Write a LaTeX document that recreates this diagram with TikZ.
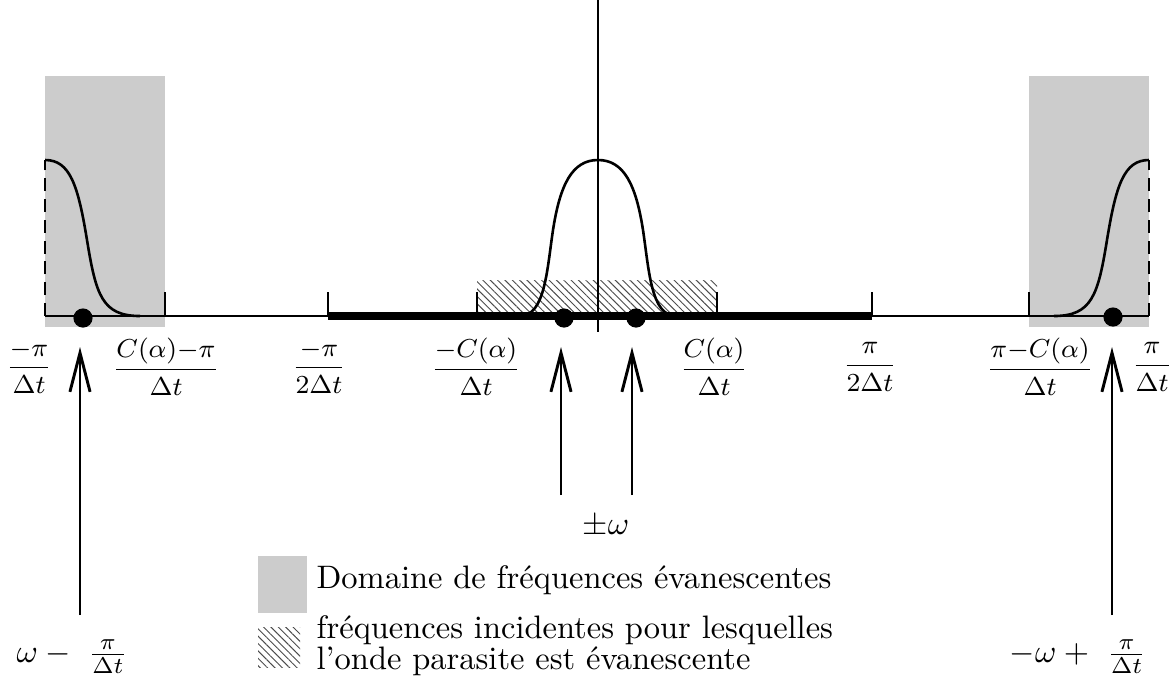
\documentclass[tikz,border=0pt]{standalone}
\usepackage{amsmath}
\usetikzlibrary{arrows.meta,patterns.meta}

\begin{document}
\begin{tikzpicture}[
            x=0.3077pt, y=-0.3077pt,
            axe/.style={line width=0.9pt},
            bande/.style={line width=2.2pt},
            courbe/.style={line width=0.8pt},
            grad/.style={line width=0.8pt},
            evan/.style={fill=black!20, draw=none},
            hach/.style={draw=none, pattern={Lines[angle=-45,distance=1.6pt,line width=0.3pt]},
            pattern color=black!70},
            frac/.style={font=\footnotesize, inner sep=0pt},
            freq/.style={inner sep=0pt},
            pt/.style={circle, fill=black, inner sep=0pt, minimum size=5.9pt},
            ar/.style={line width=0.9pt, -{Straight Barb[length=12pt,width=6.2pt]}},
            leg/.style={anchor=west, inner sep=0pt, align=left}
        ]
\useasboundingbox (0,0) rectangle (1175,687);
% domaines evanescents et bande hachuree
            \fill[evan] (45,76) rectangle (165,327);
            \fill[evan] (1029,76) rectangle (1149,327);
            \fill[hach] (477,280) rectangle (717,316);
% axes
            \draw[axe] (45,316) -- (1149,316);
            \draw[bande] (328,316) -- (872,316);
            \draw[axe] (598,0) -- (598,332);
            \draw[axe, dash pattern=on 4pt off 2.4pt] (45,316) -- (45,160);
            \draw[axe, dash pattern=on 4pt off 2.4pt] (1149,316) -- (1149,160);
            \foreach \x in {165,328,477,717,872,1029}
                \draw[grad] (\x,292) -- (\x,316);
% courbes
            \draw[courbe] (45,160) .. controls (70,160) and (78,185) .. (87,240)
                .. controls (96,295) and (102,316) .. (140,316);
            \draw[courbe] (1149,160) .. controls (1124,160) and (1116,185) .. (1107,240)
                .. controls (1098,295) and (1092,316) .. (1054,316);
            \draw[courbe] (520,316) .. controls (545,316) and (547,270) .. (553,230)
                .. controls (560,185) and (572,160) .. (598,160)
                .. controls (624,160) and (636,185) .. (643,230)
                .. controls (649,270) and (651,316) .. (676,316);
% points
            \node[pt] (p1) at (83,318) {};
            \node[pt] (p2) at (564,318) {};
            \node[pt] (p3) at (636,318) {};
            \node[pt] (p4) at (1113,317) {};
% graduations
            \node[frac] (g1) at (29,367)   {$\displaystyle\frac{-\pi}{\Delta t}$};
            \node[frac] (g2) at (166,367)  {$\displaystyle\frac{C(\alpha){-}\pi}{\Delta t}$};
            \node[frac] (g3) at (319,367)  {$\displaystyle\frac{-\pi}{2\Delta t}$};
            \node[frac] (g4) at (476,367)  {$\displaystyle\frac{-C(\alpha)}{\Delta t}$};
            \node[frac] (g5) at (714,367)  {$\displaystyle\frac{C(\alpha)}{\Delta t}$};
            \node[frac] (g6) at (870,367)  {$\displaystyle\frac{\pi}{2\Delta t}$};
            \node[frac] (g7) at (1040,367) {$\displaystyle\frac{\pi{-}C(\alpha)}{\Delta t}$};
            \node[frac] (g8) at (1152,367) {$\displaystyle\frac{\pi}{\Delta t}$};
% frequences
            \node[freq] (f1) at (72,657)   {$\omega - \ \frac{\pi}{\Delta t}$};
            \node[freq] (f2) at (606,526)  {$\pm\omega$};
            \node[freq] (f3) at (1078,657) {$-\omega + \ \frac{\pi}{\Delta t}$};
            \coordinate (b1) at (80,615);
            \coordinate (b2) at (561,495);
            \coordinate (b3) at (632,495);
            \coordinate (b4) at (1112,615);
            \coordinate (h1) at (80,347);
            \coordinate (h2) at (561,347);
            \coordinate (h3) at (632,347);
            \coordinate (h4) at (1112,347);
            \draw[ar] (b1) -- (h1);
            \draw[ar] (b2) -- (h2);
            \draw[ar] (b3) -- (h3);
            \draw[ar] (b4) -- (h4);
% legende
            \fill[evan] (258,556) rectangle (307,613);
            \fill[hach] (258,627) rectangle (300,667);
            \node[leg] (t1) at (316,580) {Domaine de fréquences évanescentes};
            \node[leg, font=\fontsize{10}{9.6}\selectfont] (t2) at (316,646)
                {fréquences incidentes pour lesquelles\\l'onde parasite est évanescente};
        \end{tikzpicture}
\end{document}
